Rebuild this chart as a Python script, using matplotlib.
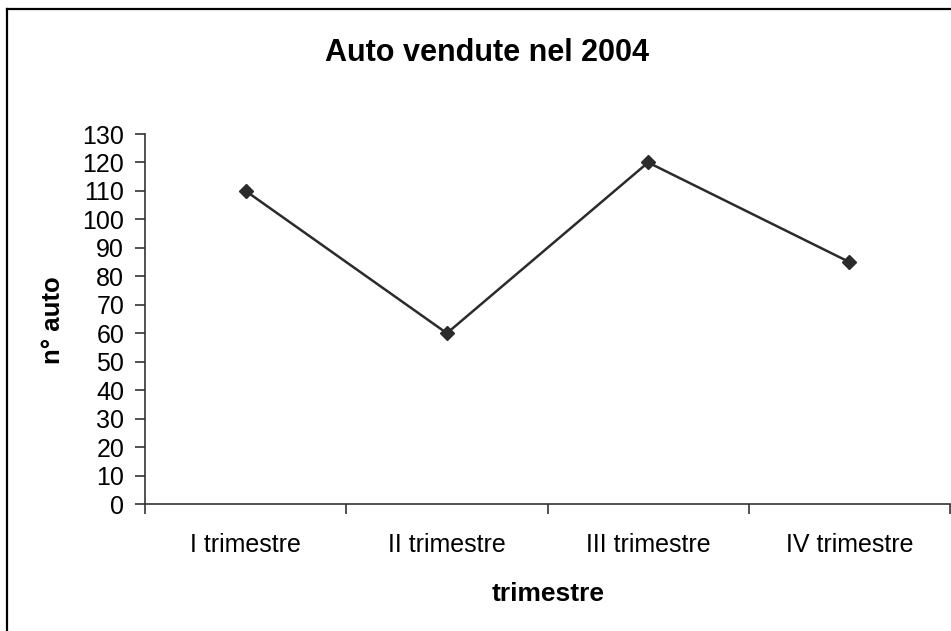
import numpy as np
import matplotlib.pyplot as plt
from matplotlib.lines import Line2D

# Dati
trimestri = ['I trimestre', 'II trimestre', 'III trimestre', 'IV trimestre']
auto_vendute = [110, 60, 120, 85]
y_ticks = list(range(0, 131, 10))

plt.rcParams['font.family'] = ['Liberation Sans', 'DejaVu Sans']

W, H = 951, 631
fig = plt.figure(figsize=(W / 100, H / 100), dpi=100)

# bordo esterno (solo sinistra e sopra visibili)
fig.add_artist(Line2D([7 / W, 7 / W], [0, 1 - 9 / H], color='black', lw=1.6,
                      transform=fig.transFigure))
fig.add_artist(Line2D([7 / W, 1], [1 - 9 / H, 1 - 9 / H], color='black', lw=1.6,
                      transform=fig.transFigure))

ax_left, ax_right = 145 / W, 950 / W
ax_top, ax_bottom = 1 - 134 / H, 1 - 504 / H
ax = fig.add_axes([ax_left, ax_bottom, ax_right - ax_left, ax_top - ax_bottom])

x = np.arange(len(trimestri))
ax.plot(x, auto_vendute, color='#2b2b2b', lw=1.8, marker='D', markersize=7.5,
        markerfacecolor='#2b2b2b', markeredgecolor='#2b2b2b')

ax.set_xlim(-0.5, len(trimestri) - 0.5)
ax.set_ylim(0, 130)
ax.set_yticks(y_ticks)
ax.set_yticklabels([str(v) for v in y_ticks], fontsize=18)

# tick maggiori ai bordi delle categorie, etichette al centro
ax.set_xticks(np.arange(-0.5, len(trimestri), 1.0))
ax.set_xticklabels([])
ax.set_xticks(x, minor=True)
ax.set_xticklabels(trimestri, minor=True, fontsize=18)
ax.tick_params(axis='x', which='minor', length=0, pad=21)
ax.tick_params(axis='both', which='major', length=7, width=1.2, color='#333333',
               direction='out')
ax.tick_params(axis='y', pad=8)

for s in ['top', 'right']:
    ax.spines[s].set_visible(False)
for s in ['left', 'bottom']:
    ax.spines[s].set_color('#333333')
    ax.spines[s].set_linewidth(1.2)

fig.text(487 / W, 1 - 53 / H, 'Auto vendute nel 2004', ha='center', va='center',
         fontsize=22, fontweight='bold')
fig.text(548 / W, 1 - 594 / H, 'trimestre', ha='center', va='center',
         fontsize=19, fontweight='bold')
fig.text(53 / W, 1 - 320 / H, 'n° auto', ha='center', va='center',
         fontsize=18.5, fontweight='bold', rotation=90)

fig.savefig('out.png', dpi=100)
